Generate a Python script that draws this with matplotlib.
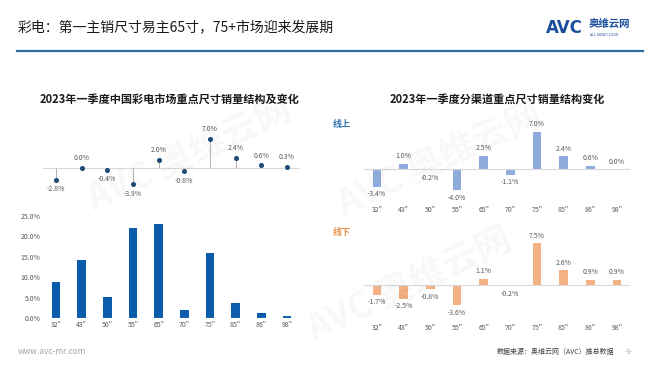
import matplotlib.pyplot as plt

plt.rcParams['font.family'] = ['Noto Sans CJK SC', 'DejaVu Sans']

# 数据
sizes = ['32"', '43"', '50"', '55"', '65"', '70"', '75"', '85"', '86"', '98"']
share_2023q1 = [8.9, 14.1, 5.1, 22.1, 23.1, 1.9, 16.0, 3.7, 1.2, 0.5]
share_change = [-2.8, 0.0, -0.4, -3.9, 2.0, -0.8, 7.0, 2.4, 0.6, 0.3]
online_change = [-3.4, 1.0, -0.2, -4.0, 2.5, -1.1, 7.0, 2.4, 0.6, 0.0]
offline_change = [-1.7, -2.5, -0.8, -3.6, 1.1, -0.2, 7.5, 2.6, 0.9, 0.9]

W, H = 660, 372
GRAY = '#595959'
x = list(range(len(sizes)))


def box(l, t, r, b):
    # 像素 -> figure 坐标
    return [l / W, 1 - b / H, (r - l) / W, (b - t) / H]


def clean(ax):
    for s in ax.spines.values():
        s.set_visible(False)
    ax.tick_params(length=0, labelsize=5, labelcolor=GRAY)


fig = plt.figure(figsize=(6.6, 3.72), dpi=100)

# 标题与页眉
fig.text(18 / W, 1 - 27 / H, '彩电：第一主销尺寸易主65寸，75+市场迎来发展期',
         fontsize=10, va='center', color='#1a1a1a')
fig.add_artist(plt.Line2D([17 / W, 643 / W], [1 - 51 / H, 1 - 51 / H],
                          color='#2F6EA5', lw=1.6))
fig.text(546 / W, 1 - 28 / H, 'AVC', fontsize=12, fontweight='bold',
         color='#1B4F9C', va='center', family='DejaVu Sans')
fig.text(589 / W, 1 - 24 / H, '奥维云网', fontsize=7.5, fontweight='bold',
         color='#1B4F9C', va='center')
fig.text(590 / W, 1 - 35 / H, 'ALL VIEW CLOUD', fontsize=2.6,
         color='#1B4F9C', va='center')

# 水印
for wx, wy in [(190, 155), (440, 160), (410, 285)]:
    fig.text(wx / W, 1 - wy / H, 'AVC 奥维云网', fontsize=26, rotation=25,
             color='#000000', alpha=0.03, ha='center', va='center',
             fontweight='bold')

# 小标题
fig.text(170 / W, 1 - 100 / H, '2023年一季度中国彩电市场重点尺寸销量结构及变化',
         fontsize=8, fontweight='bold', ha='center', va='center', color='#1a1a1a')
fig.text(497 / W, 1 - 100 / H, '2023年一季度分渠道重点尺寸销量结构变化',
         fontsize=8, fontweight='bold', ha='center', va='center', color='#1a1a1a')

# 左上：份额变化（棒棒糖）
ax1 = fig.add_axes(box(43.2, 130.2, 299.8, 193.2))
clean(ax1)
ax1.axhline(0, color='#D9D9D9', lw=0.8)
ax1.vlines(x, 0, share_change, color='#A6A6A6', lw=0.6)
ax1.scatter(x, share_change, s=7, color='#1F4E79', zorder=3)
for i, v in enumerate(share_change):
    ax1.annotate(f'{v:.1f}%', (i, v), xytext=(0, 4 if v >= 0 else -4),
                 textcoords='offset points', ha='center',
                 va='bottom' if v >= 0 else 'top', fontsize=5, color=GRAY)
ax1.set_xlim(-0.5, 9.5)
ax1.set_ylim(-6, 9)
ax1.set_xticks([])
ax1.set_yticks([])

# 左下：尺寸份额
ax2 = fig.add_axes(box(43.2, 211.9, 299.8, 318))
clean(ax2)
ax2.bar(x, share_2023q1, width=0.33, color='#0B5CAD')
ax2.axhline(0, color='#D9D9D9', lw=0.8)
ax2.set_xlim(-0.5, 9.5)
ax2.set_ylim(0, 26)
ax2.set_yticks([0, 5, 10, 15, 20, 25])
ax2.set_yticklabels([f'{t:.1f}%' for t in [0, 5, 10, 15, 20, 25]])
ax2.set_xticks(x)
ax2.set_xticklabels(sizes)
ax2.tick_params(axis='y', pad=2)
ax2.tick_params(axis='x', pad=2)


def channel_axes(rect, vals, color, name, name_color, name_y):
    ax = fig.add_axes(rect)
    clean(ax)
    ax.bar(x, vals, width=0.32, color=color)
    ax.axhline(0, color='#D9D9D9', lw=0.8)
    for i, v in enumerate(vals):
        ax.annotate(f'{v:.1f}%', (i, v), xytext=(0, 2.5 if v >= 0 else -2.5),
                    textcoords='offset points', ha='center',
                    va='bottom' if v >= 0 else 'top', fontsize=5, color=GRAY)
    ax.set_xlim(-0.5, 9.5)
    ax.set_ylim(-6, 9)
    ax.set_yticks([])
    ax.set_xticks(x)
    ax.set_xticklabels(sizes)
    ax.tick_params(axis='x', pad=4)
    fig.text(333 / W, 1 - name_y / H, name, fontsize=6.5, fontweight='bold',
             color=name_color, va='center')
    return ax


# 右上：线上
channel_axes(box(363.7, 121.3, 630.3, 200.8), online_change, '#8FAADC',
             '线上', '#2E75B6', 125)
# 右下：线下
channel_axes(box(363.7, 234.6, 630.3, 318.6), offline_change, '#F4B183',
             '线下', '#E8914A', 233)

# 页脚
fig.text(18 / W, 1 - 352 / H, 'www.avc-mr.com', fontsize=6, color='#A6A6A6',
         va='center')
fig.text(497 / W, 1 - 352 / H, '数据来源：奥维云网（AVC）推总数据', fontsize=5,
         color='#404040', va='center')
fig.text(625 / W, 1 - 352 / H, '-3-', fontsize=5, color='#A6A6A6', va='center')

fig.savefig('out.png', dpi=100)
